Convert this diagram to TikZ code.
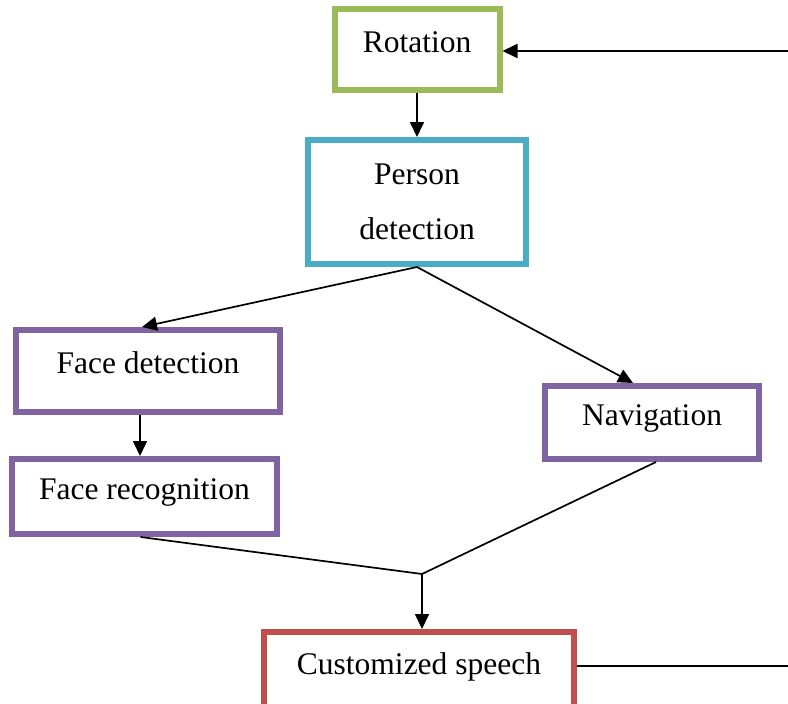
\documentclass[tikz,border=0pt]{standalone}
\usepackage{fontspec}
\setmainfont{Liberation Serif}
\usetikzlibrary{arrows.meta,positioning,calc}
\definecolor{cgreen}{RGB}{155,187,89}
\definecolor{cblue}{RGB}{75,172,198}
\definecolor{cpurple}{RGB}{128,100,162}
\definecolor{cred}{RGB}{192,80,77}

\begin{document}
\begin{tikzpicture}[x=1pt, y=-1pt,
    box/.style={draw=#1, line width=6pt, fill=white, align=center,
                font=\fontsize{31.5}{55}\selectfont},
    upper/.style={text height=21.5pt, text depth=16pt},
    flow/.style={line width=1.7pt, -{Triangle[length=15pt,width=14pt]}},
    link/.style={line width=1.7pt, line join=round}]
  \clip (0,0) rectangle (788,704);
  % boxes
  \node[box=cgreen, upper, minimum width=165pt, minimum height=81pt] (rot) at (417,49.5) {Rotation};
  \node[box=cblue, minimum width=218pt, minimum height=124pt] (pd) at (417,202) {Person\\detection};
  \node[box=cpurple, upper, minimum width=264pt, minimum height=82pt] (fd) at (148,371) {Face detection};
  \node[box=cpurple, upper, minimum width=265pt, minimum height=75pt] (fr) at (144.5,496.5) {Face recognition};
  \node[box=cpurple, upper, minimum width=214pt, minimum height=73pt] (nav) at (652,422.5) {Navigation};
  \node[box=cred, upper, minimum width=310pt, minimum height=80pt] (cs) at (419,672) {Customized speech};
  \coordinate (jn) at (422,574);
  \coordinate (fbin) at (788,51);
  \coordinate (fbout) at (788,666);
  % connectors
  \draw[flow] (rot.south) -- (pd.north);
  \draw[flow] (pd.south) -- ([xshift=-6pt]fd.north);
  \draw[flow] (pd.south) -- ([xshift=-19pt]nav.north);
  \draw[flow] ([xshift=-8pt]fd.south) -- ([xshift=-8pt]fd.south |- fr.north);
  \draw[link] ([xshift=-4pt]fr.south) -- (jn) -- ([xshift=4pt]nav.south);
  \draw[flow] (jn) -- (jn |- cs.north);
  % feedback
  \draw[link] (cs.east |- fbout) -- (fbout);
  \draw[flow] (fbin) -- (rot.east |- fbin);
\end{tikzpicture}
\end{document}
